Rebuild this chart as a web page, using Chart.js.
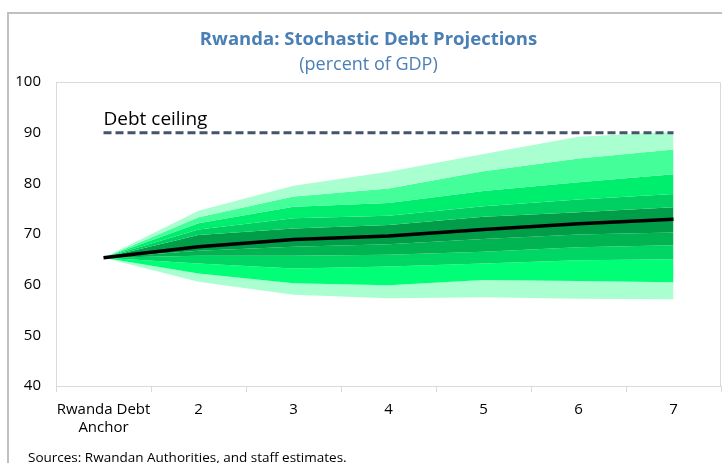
<!DOCTYPE html>
<html>
<head>
<meta charset="utf-8">
<script src="https://cdn.jsdelivr.net/npm/chart.js@4.4.1/dist/chart.umd.min.js"></script>
<style>
  html, body { margin: 0; padding: 0; background: #ffffff; }
  #wrap { position: relative; width: 722px; height: 463px; }
  canvas { display: block; }
</style>
</head>
<body>
<div id="wrap"><canvas id="c" width="722" height="463"></canvas></div>
<script>
// ---- Data ----
const categories = [["Rwanda Debt", "Anchor"], "2", "3", "4", "5", "6", "7"];
const yTicks = [40, 50, 60, 70, 80, 90, 100];

const median = [65.3, 67.5, 68.9, 69.6, 70.9, 72.0, 72.9];
const upper5 = [65.3, 74.6, 79.5, 82.3, 85.8, 89.2, 90.2];
const upper4 = [65.3, 73.3, 77.4, 79.0, 82.4, 84.9, 86.7];
const upper3 = [65.3, 72.1, 75.4, 76.1, 78.5, 80.2, 81.8];
const upper2 = [65.3, 70.9, 73.1, 73.6, 75.5, 76.8, 77.9];
const upper1 = [65.3, 69.8, 71.1, 71.8, 73.4, 74.3, 75.3];
const lower1 = [65.3, 66.7, 67.5, 68.0, 69.0, 69.9, 70.3];
const lower2 = [65.3, 65.7, 65.7, 65.9, 66.5, 67.4, 67.8];
const lower3 = [65.3, 64.2, 63.2, 63.6, 64.2, 64.8, 65.0];
const lower4 = [65.3, 62.2, 60.3, 59.9, 60.9, 60.7, 60.5];
const lower5 = [65.3, 60.6, 58.0, 57.3, 57.5, 57.2, 57.1];
const debtCeiling = [90, 90, 90, 90, 90, 90, 90];

const titleText = "Rwanda: Stochastic Debt Projections";
const subtitleText = "(percent of GDP)";
const ceilingLabel = "Debt ceiling";
const sourceText = "Sources: Rwandan Authorities, and staff estimates.";

// ---- Styles ----
const FONT = "'Open Sans', 'Noto Sans', sans-serif";
const bandColors = ["#aaffd0", "#44ff99", "#00ee6e", "#00d062", "#009e48",
                    "#009e48", "#00b452", "#00d664", "#00ff77", "#aaffd0"];

function band(data, color) {
  return { data: data, fill: "+1", backgroundColor: color, borderWidth: 0,
           pointRadius: 0, pointHoverRadius: 0, tension: 0, order: 0 };
}

const datasets = [
  band(upper5, bandColors[0]),
  band(upper4, bandColors[1]),
  band(upper3, bandColors[2]),
  band(upper2, bandColors[3]),
  band(upper1, bandColors[4]),
  { data: median, fill: "+1", backgroundColor: bandColors[5], borderColor: "#000000",
    borderWidth: 3.5, pointRadius: 0, tension: 0, order: -1 },
  band(lower1, bandColors[6]),
  band(lower2, bandColors[7]),
  band(lower3, bandColors[8]),
  band(lower4, bandColors[9]),
  { data: lower5, fill: false, borderWidth: 0, pointRadius: 0, tension: 0, order: 0 },
  { data: debtCeiling, fill: false, borderColor: "#44546a", borderWidth: 3,
    borderDash: [8, 4], pointRadius: 0, tension: 0, order: -2 }
];

const decor = {
  id: "decor",
  beforeDraw(chart) {
    const ctx = chart.ctx;
    ctx.save();
    ctx.fillStyle = "#ffffff";
    ctx.fillRect(0, 0, chart.width, chart.height);
    // outer frame
    ctx.strokeStyle = "#c0c0c0";
    ctx.lineWidth = 2;
    ctx.beginPath();
    ctx.moveTo(8, 463);
    ctx.lineTo(8, 13);
    ctx.lineTo(722, 13);
    ctx.stroke();
    ctx.restore();
  },
  afterDraw(chart) {
    const ctx = chart.ctx;
    const a = chart.chartArea;
    ctx.save();
    // plot frame (top and right)
    ctx.strokeStyle = "#d9d9d9";
    ctx.lineWidth = 1;
    ctx.beginPath();
    ctx.moveTo(a.left, a.top + 0.5);
    ctx.lineTo(a.right - 0.5, a.top + 0.5);
    ctx.lineTo(a.right - 0.5, a.bottom);
    ctx.stroke();
    // titles
    ctx.fillStyle = "#4a7fb5";
    ctx.textAlign = "center";
    ctx.textBaseline = "middle";
    ctx.font = "bold 18.5px " + FONT;
    ctx.fillText(titleText, 368.5, 40);
    ctx.font = "18px " + FONT;
    ctx.fillText(subtitleText, 368.5, 65);
    // debt ceiling label
    const xs = chart.scales.x, ys = chart.scales.y;
    ctx.fillStyle = "#000000";
    ctx.textAlign = "left";
    ctx.textBaseline = "alphabetic";
    ctx.font = "19px " + FONT;
    ctx.fillText(ceilingLabel, xs.getPixelForValue(0), ys.getPixelForValue(90) - 8);
    // source
    ctx.font = "13.5px " + FONT;
    ctx.fillText(sourceText, 28, 462);
    ctx.restore();
  }
};

new Chart(document.getElementById("c"), {
  type: "line",
  data: { labels: categories, datasets: datasets },
  plugins: [decor],
  options: {
    responsive: false,
    animation: false,
    events: [],
    layout: { padding: { top: 82, right: 1, left: 0, bottom: 0 } },
    plugins: { legend: { display: false }, title: { display: false }, tooltip: { enabled: false } },
    scales: {
      x: {
        type: "category",
        offset: true,
        grid: { offset: true, drawOnChartArea: false, drawTicks: true, tickLength: 6, color: "#d9d9d9" },
        border: { color: "#d9d9d9" },
        ticks: { color: "#000000", padding: 8, maxRotation: 0, autoSkip: false,
                 font: { family: FONT, size: 15, lineHeight: 1.25 } },
        afterFit(s) { s.height = 77; }
      },
      y: {
        min: 40, max: 100,
        afterBuildTicks(s) { s.ticks = yTicks.map(v => ({ value: v })); },
        grid: { display: false, drawTicks: false },
        border: { display: true, color: "#d9d9d9" },
        ticks: { color: "#000000", padding: 15, font: { family: FONT, size: 15 } },
        afterFit(s) { s.width = 56; }
      }
    }
  }
});
</script>
</body>
</html>
